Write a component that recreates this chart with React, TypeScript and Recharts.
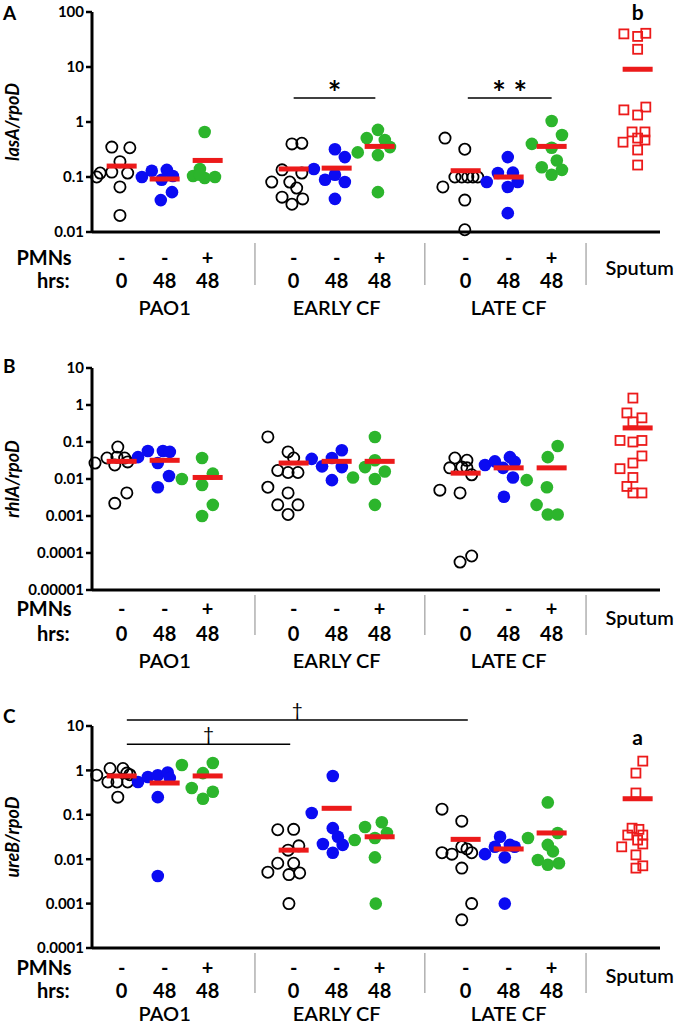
import React from 'react';
import { ScatterChart, Scatter, XAxis, YAxis, ReferenceLine } from 'recharts';

// x positions of the ten groups and of the grey separators under the axis
const groupPos = [0, 1, 2, 4, 5, 6, 8, 9, 10, 12];
const separatorPos = [3.1, 7.05, 10.8];
const pmnsLabels = ['-', '-', '+', '-', '-', '+', '-', '-', '+'];
const hrsLabels = ['0', '48', '48', '0', '48', '48', '0', '48', '48'];
const strainLabels = ['PAO1', 'EARLY CF', 'LATE CF'];
const strainPos = [1, 5, 9];

// A: lasA/rpoD
const lasATicks = [0.01, 0.1, 1, 10, 100];
const lasAValues = [
  [0.35, 0.34, 0.19, 0.118, 0.123, 0.118, 0.1, 0.066, 0.02],
  [0.1, 0.13, 0.135, 0.089, 0.104, 0.053, 0.038],
  [0.66, 0.14, 0.104, 0.096, 0.1, 0.11],
  [0.4, 0.41, 0.135, 0.118, 0.081, 0.081, 0.063, 0.043, 0.04, 0.032],
  [0.14, 0.32, 0.23, 0.089, 0.11, 0.081, 0.04],
  [0.28, 0.51, 0.72, 0.47, 0.35, 0.25, 0.053],
  [0.51, 0.32, 0.066, 0.038, 0.011, 0.1, 0.1, 0.1, 0.1, 0.1],
  [0.081, 0.118, 0.23, 0.12, 0.066, 0.081, 0.022],
  [1.04, 0.58, 0.4, 0.34, 0.2, 0.15, 0.11, 0.135],
  [40, 36, 41, 21, 1.66, 1.34, 1.87, 0.66, 0.66, 0.43, 0.51, 0.47, 0.31, 0.165],
];
const lasAJitter = [
  [-0.23, 0.19, -0.04, -0.5, -0.23, 0.14, -0.58, -0.04, -0.04],
  [-0.53, -0.3, 0.05, -0.07, 0.19, 0.17, -0.09],
  [-0.07, -0.18, -0.34, -0.07, 0.17, -0.18],
  [-0.04, 0.19, -0.27, 0.19, -0.51, -0.09, 0.07, -0.27, 0.21, -0.04],
  [-0.53, -0.04, 0.19, -0.27, -0.04, 0.19, -0.04],
  [-0.51, -0.3, -0.04, 0.12, 0.24, -0.04, -0.04],
  [-0.48, -0.02, -0.53, -0.02, -0.02, -0.25, -0.09, 0.05, 0.17, 0.28],
  [-0.51, -0.25, -0.02, 0.1, -0.02, 0.21, -0.02],
  [0, 0.24, -0.46, 0, 0.12, -0.23, 0, 0.24],
  [-0.32, 0, 0.19, 0, -0.32, 0, 0.19, -0.13, 0.17, -0.34, 0, 0.17, 0, 0],
];
const lasAMedians = [0.158, 0.092, 0.2, 0.14, 0.145, 0.36, 0.13, 0.1, 0.36, 9.1];
const lasASig = [
  { from: 4, to: 5.9, y: 2.73, mark: '*' },
  { from: 8.05, to: 10, y: 2.73, mark: '* *' },
];
const lasANotes = [{ x: 12, y: 72, text: 'b' }];

// B: rhlA/rpoD
const rhlATicks = [0.00001, 0.0001, 0.001, 0.01, 0.1, 1, 10];
const rhlAValues = [
  [0.073, 0.027, 0.037, 0.039, 0.037, 0.024, 0.029, 0.0042, 0.0022],
  [0.039, 0.057, 0.027, 0.057, 0.054, 0.012, 0.006],
  [0.01, 0.037, 0.0069, 0.014, 0.002, 0.001],
  [0.137, 0.054, 0.037, 0.017, 0.015, 0.015, 0.006, 0.0042, 0.002, 0.002, 0.0011],
  [0.035, 0.022, 0.037, 0.06, 0.021, 0.0093],
  [0.011, 0.021, 0.137, 0.032, 0.016, 0.01, 0.002],
  [0.037, 0.032, 0.02, 0.021, 0.013, 0.02, 0.005, 0.0042, 0.000057, 0.000083],
  [0.024, 0.03, 0.02, 0.039, 0.029, 0.011, 0.0033],
  [0.0093, 0.006, 0.039, 0.078, 0.002, 0.0011, 0.0011],
  [1.54, 0.61, 0.45, 0.35, 0.11, 0.1, 0.11, 0.042, 0.027, 0.019, 0.011, 0.0063, 0.0042, 0.0042],
];
const rhlAJitter = [
  [-0.09, -0.62, -0.34, -0.11, 0.07, -0.16, 0.14, 0.12, -0.16],
  [-0.62, -0.39, -0.16, -0.04, 0.12, 0.1, -0.16],
  [-0.6, -0.13, -0.13, 0.12, 0.12, -0.13],
  [-0.6, -0.13, 0, -0.37, -0.13, 0.1, -0.6, -0.13, -0.37, 0.1, -0.13],
  [-0.58, -0.34, -0.11, 0.12, 0.12, -0.11],
  [-0.62, -0.34, -0.11, -0.11, 0.12, -0.11, -0.11],
  [-0.25, 0.03, -0.37, -0.09, 0.14, 0.03, -0.6, -0.13, -0.13, 0.14],
  [-0.55, -0.32, -0.13, 0.03, 0.14, 0.1, -0.11],
  [-0.58, -0.11, -0.09, 0.14, -0.35, -0.09, 0.14],
  [-0.11, -0.25, 0.1, -0.11, -0.41, -0.11, 0.1, 0.1, -0.11, -0.41, -0.11, -0.25, -0.11, 0.1],
];
const rhlAMedians = [0.03, 0.032, 0.011, 0.027, 0.03, 0.03, 0.0144, 0.02, 0.02, 0.24];

// C: ureB/rpoD
const ureBTicks = [0.0001, 0.001, 0.01, 0.1, 1, 10];
const ureBValues = [
  [1.1, 1.1, 0.87, 0.78, 0.55, 0.55, 0.55, 0.8, 0.25],
  [0.55, 0.71, 0.78, 0.9, 0.67, 0.25, 0.0042],
  [1.32, 1.47, 0.87, 0.4, 0.33, 0.23],
  [0.046, 0.047, 0.02, 0.016, 0.0081, 0.0081, 0.0051, 0.0045, 0.0049, 0.001],
  [0.11, 0.75, 0.05, 0.032, 0.022, 0.021, 0.014],
  [0.027, 0.053, 0.068, 0.039, 0.03, 0.011, 0.001],
  [0.134, 0.072, 0.014, 0.013, 0.019, 0.017, 0.014, 0.0063, 0.001, 0.00043],
  [0.013, 0.019, 0.032, 0.021, 0.019, 0.011, 0.001],
  [0.03, 0.19, 0.039, 0.021, 0.015, 0.0096, 0.0075, 0.0081],
  [1.62, 0.87, 0.31, 0.05, 0.047, 0.035, 0.035, 0.027, 0.022, 0.019, 0.0125, 0.0071, 0.0063],
];
const ureBJitter = [
  [-0.27, 0.03, 0.12, -0.58, -0.32, -0.11, 0.14, 0.19, -0.09],
  [-0.62, -0.39, -0.16, 0.07, 0.12, -0.16, -0.16],
  [-0.6, 0.12, -0.11, -0.37, 0.12, -0.11],
  [-0.37, 0, 0.12, -0.13, -0.37, 0, -0.6, -0.11, 0.14, -0.11],
  [-0.58, -0.09, -0.09, 0.03, -0.32, 0.14, -0.09],
  [-0.58, -0.34, 0.05, 0.17, -0.11, -0.11, -0.09],
  [-0.55, -0.09, -0.55, -0.32, -0.09, 0.03, 0.14, -0.09, 0.14, -0.09],
  [-0.55, -0.32, -0.2, 0.03, 0.14, -0.09, -0.09],
  [-0.55, -0.09, 0.14, -0.09, 0.03, -0.32, -0.09, 0.17],
  [0.12, -0.04, -0.04, -0.13, 0.03, -0.23, 0.12, 0, 0.12, -0.37, -0.04, 0.12, -0.04],
];
const ureBMedians = [0.75, 0.52, 0.75, 0.016, 0.14, 0.032, 0.028, 0.017, 0.039, 0.23];
const ureBSig = [
  { from: 0.12, to: 8.05, y: 13.6, mark: '†' },
  { from: 0.12, to: 3.92, y: 3.9, mark: '†' },
];
const ureBNotes = [{ x: 12, y: 3.7, text: 'a' }];

const BLUE = '#0b0bf2';
const GREEN = '#2cb52c';
const RED = '#ec1a1a';

const openCircle = (p: any) => (
  <circle cx={p.cx} cy={p.cy} r={5.6} fill="none" stroke="#000" strokeWidth={1.8} />
);
const blueDot = (p: any) => <circle cx={p.cx} cy={p.cy} r={6.3} fill={BLUE} />;
const greenDot = (p: any) => <circle cx={p.cx} cy={p.cy} r={6.3} fill={GREEN} />;
const redSquare = (p: any) => (
  <rect x={p.cx - 4.5} y={p.cy - 4.5} width={9} height={9} fill="none" stroke={RED} strokeWidth={1.8} />
);
const medianBar = (p: any) => <rect x={p.cx - 15} y={p.cy - 2.5} width={30} height={5} fill={RED} />;
const noteText = (p: any) => (
  <text x={p.cx} y={p.cy} textAnchor="middle" fontSize={21} fontWeight="bold" fill="#000">
    {p.payload.text}
  </text>
);
const shapes = [openCircle, blueDot, greenDot];

function makeTick(rows: any) {
  return (props: any) => {
    const { x, y, payload } = props;
    const v = payload.value;
    const g = groupPos.indexOf(v);
    const txt = { fill: '#000', fontSize: 20, dominantBaseline: 'central' as const };
    if (g < 0) {
      return <line x1={x} x2={x} y1={y + rows.sepTop} y2={y + rows.sepBot} stroke="#b0b0b0" strokeWidth={1.5} />;
    }
    if (g === 9) {
      return <text x={x + 2} y={y + rows.sputum} textAnchor="middle" fontWeight={600} {...txt}>Sputum</text>;
    }
    const s = strainPos.indexOf(v);
    return (
      <g>
        {g === 0 && (
          <>
            <text x={x - 50} y={y + rows.pmn} textAnchor="end" fontWeight="bold" {...txt}>PMNs</text>
            <text x={x - 52} y={y + rows.hrs} textAnchor="end" fontWeight="bold" {...txt}>hrs:</text>
          </>
        )}
        <text x={x} y={y + rows.pmn} textAnchor="middle" fontWeight="bold" {...txt}>{pmnsLabels[g]}</text>
        <text x={x} y={y + rows.hrs} textAnchor="middle" fontWeight="bold" {...txt}>{hrsLabels[g]}</text>
        {s >= 0 && (
          <text x={x} y={y + rows.strain} textAnchor="middle" fontWeight={600} {...txt}>{strainLabels[s]}</text>
        )}
      </g>
    );
  };
}

function Panel(p: any) {
  const groups = p.values.map((vals: number[], g: number) =>
    vals.map((v, k) => ({ x: groupPos[g] + p.jitter[g][k], y: v })),
  );
  const medians = p.medians.map((m: number, g: number) => ({ x: groupPos[g], y: m }));
  return (
    <div style={{ position: 'absolute', left: 0, top: p.top }}>
      <ScatterChart width={680} height={p.height} margin={{ top: p.marginTop, right: 20, bottom: p.bottomPad, left: 0 }}>
        <XAxis
          type="number"
          dataKey="x"
          domain={[-0.69, 12.52]}
          ticks={[...groupPos, ...separatorPos]}
          interval={0}
          height={p.xHeight}
          tickSize={0}
          tickMargin={0}
          tickLine={false}
          axisLine={{ stroke: '#000', strokeWidth: 3 }}
          tick={makeTick(p.rows)}
        />
        <YAxis
          type="number"
          dataKey="y"
          scale="log"
          domain={[p.ticks[0], p.ticks[p.ticks.length - 1]]}
          ticks={p.ticks}
          interval={0}
          width={92}
          tickSize={6}
          tickMargin={2}
          tickFormatter={(v: number) => String(v)}
          tick={{ fill: '#000', fontSize: 15, fontWeight: 'bold' }}
          tickLine={{ stroke: '#000', strokeWidth: 2.5 }}
          axisLine={{ stroke: '#000', strokeWidth: 3 }}
          label={{
            content: (lp: any) => {
              const vb = lp.viewBox || { y: p.marginTop, height: p.height - p.marginTop - p.xHeight - p.bottomPad };
              const cy = vb.y + vb.height / 2;
              return (
                <text
                  x={19}
                  y={cy}
                  transform={`rotate(-90 19 ${cy})`}
                  textAnchor="middle"
                  fontSize={18}
                  fontWeight="bold"
                  fontStyle="italic"
                  fill="#000"
                >
                  {p.yLabel}
                </text>
              );
            },
          }}
        />
        {(p.sig || []).map((s: any, i: number) => (
          <ReferenceLine
            key={`sig${i}`}
            segment={[{ x: s.from, y: s.y }, { x: s.to, y: s.y }]}
            stroke="#000"
            strokeWidth={1.5}
            ifOverflow="visible"
            label={
              s.mark === '†'
                ? { value: s.mark, position: 'top', offset: 3, fill: '#000', fontSize: 19 }
                : { value: s.mark, position: 'top', offset: -7, fill: '#000', fontSize: 32, fontWeight: 'bold' }
            }
          />
        ))}
        {groups.map((pts: any[], g: number) => (
          <Scatter
            key={`g${g}`}
            data={pts}
            shape={g === 9 ? redSquare : shapes[g % 3]}
            isAnimationActive={false}
          />
        ))}
        <Scatter data={medians} shape={medianBar} isAnimationActive={false} />
        {p.notes && <Scatter data={p.notes} shape={noteText} isAnimationActive={false} />}
      </ScatterChart>
      <div
        style={{
          position: 'absolute',
          left: p.letterX,
          top: p.letterY,
          fontSize: 19,
          fontWeight: 'bold',
          lineHeight: 1,
        }}
      >
        {p.letter}
      </div>
    </div>
  );
}

export default function App() {
  return (
    <div style={{ position: 'absolute', left: 0, top: 0, width: 680, height: 1029, fontFamily: 'Lato, sans-serif', background: '#fff' }}>
      <Panel
        letter="A"
        letterX={3}
        letterY={3}
        yLabel="lasA/rpoD"
        top={0}
        height={322}
        bottomPad={0}
        marginTop={12}
        xHeight={90}
        ticks={lasATicks}
        values={lasAValues}
        jitter={lasAJitter}
        medians={lasAMedians}
        sig={lasASig}
        notes={lasANotes}
        rows={{ pmn: 25, hrs: 48, strain: 75, sputum: 35, sepTop: 11, sepBot: 53 }}
      />
      <Panel
        letter="B"
        letterX={3}
        letterY={356 - 322}
        yLabel="rhlA/rpoD"
        top={322}
        height={358}
        bottomPad={10}
        marginTop={46}
        xHeight={80}
        ticks={rhlATicks}
        values={rhlAValues}
        jitter={rhlAJitter}
        medians={rhlAMedians}
        rows={{ pmn: 18, hrs: 43, strain: 70, sputum: 27, sepTop: 5, sepBot: 45 }}
      />
      <Panel
        letter="C"
        letterX={3}
        letterY={706 - 670}
        yLabel="ureB/rpoD"
        top={670}
        height={359}
        bottomPad={0}
        marginTop={56}
        xHeight={81}
        ticks={ureBTicks}
        values={ureBValues}
        jitter={ureBJitter}
        medians={ureBMedians}
        sig={ureBSig}
        notes={ureBNotes}
        rows={{ pmn: 19, hrs: 42, strain: 65, sputum: 27, sepTop: 5, sepBot: 45 }}
      />
    </div>
  );
}
